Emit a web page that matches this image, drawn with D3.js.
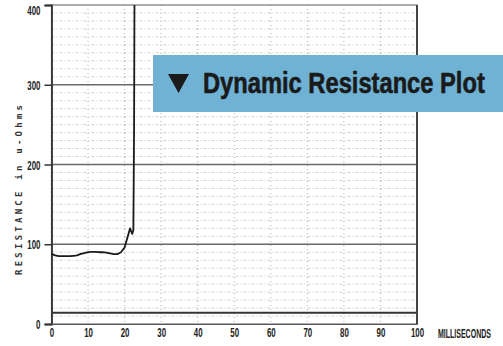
<!DOCTYPE html>
<html>
<head>
<meta charset="utf-8">
<script src="https://cdn.jsdelivr.net/npm/d3@7"></script>
<style>
  body { margin: 0; background: #fff; }
  svg { display: block; }
  .tick-label { font-family: "Liberation Sans", Arial, sans-serif; font-weight: bold; fill: #222; }
</style>
</head>
<body>
<div id="chart"></div>
<script>
// Dynamic resistance trace
const timeMs = [0, 1, 2, 3, 4, 5, 6, 7, 8, 9, 10, 11, 12, 13, 14, 15, 16, 17, 18, 19,
  20, 20.5, 21, 21.5, 21.8, 22.1, 22.4, 22.6, 22.7];
const resistance = [88, 86, 85, 85, 85, 85, 85.5, 86, 88, 89, 90, 90.5, 90.5, 90, 90, 89.5, 88.5, 87.5, 87.5, 90,
  96, 104, 112, 120, 116, 113, 118, 250, 400];

const xTicks = [0, 10, 20, 30, 40, 50, 60, 70, 80, 90, 100];
const yTicks = [0, 100, 200, 300, 400];
const minorY = d3.range(10, 400, 10);
const baseLine = 14; // heavy line just above the axis

const svgWidth = 503;
const svgHeight = 346;

const svg = d3.select("#chart")
  .append("svg")
  .attr("width", svgWidth)
  .attr("height", svgHeight);

const x = d3.scaleLinear().domain([0, 100]).range([51.5, 417]);
const y = d3.scaleLinear().domain([0, 400]).range([324, 5]);

// narrow digits, like the plotter font
const labelWidth = (d) => String(d).length * 4.4;

// squeeze a text horizontally to a given width (keeps the real glyph box)
function squeeze(sel, x0, y0, target) {
  const w = sel.node().getComputedTextLength();
  sel.attr("transform", `translate(${x0},${y0}) scale(${target / w},1)`);
}

// minor grid (dashed, light)
svg.append("g")
  .selectAll("line")
  .data(minorY.filter((d) => d % 100 !== 0))
  .join("line")
  .attr("x1", x(0)).attr("x2", x(100))
  .attr("y1", (d) => y(d)).attr("y2", (d) => y(d))
  .attr("stroke", "#c4c4c4")
  .attr("stroke-width", 0.8)
  .attr("stroke-dasharray", "3,2,1,2");

svg.append("g")
  .selectAll("line")
  .data(xTicks.slice(1, -1))
  .join("line")
  .attr("x1", (d) => x(d)).attr("x2", (d) => x(d))
  .attr("y1", y(400)).attr("y2", y(0))
  .attr("stroke", "#a8a8a8")
  .attr("stroke-width", 0.9)
  .attr("stroke-dasharray", "1,3");

// major grid
svg.append("g")
  .selectAll("line")
  .data(yTicks.slice(1, -1))
  .join("line")
  .attr("x1", x(0)).attr("x2", x(100))
  .attr("y1", (d) => y(d)).attr("y2", (d) => y(d))
  .attr("stroke", "#6a6a6a")
  .attr("stroke-width", 1.3);

svg.append("line")
  .attr("x1", x(0)).attr("x2", x(100))
  .attr("y1", y(baseLine)).attr("y2", y(baseLine))
  .attr("stroke", "#333")
  .attr("stroke-width", 2);

// frame
svg.append("rect")
  .attr("x", x(0)).attr("y", y(400))
  .attr("width", x(100) - x(0)).attr("height", y(0) - y(400))
  .attr("fill", "none")
  .attr("stroke", "#777")
  .attr("stroke-width", 1.2);
svg.append("line")
  .attr("x1", x(100)).attr("x2", x(100))
  .attr("y1", y(400)).attr("y2", y(0))
  .attr("stroke", "#444")
  .attr("stroke-width", 2);

// left axis
const yAxis = svg.append("g")
  .attr("transform", `translate(${x(0)},0)`)
  .call(d3.axisLeft(y).tickValues(yTicks).tickSize(7).tickPadding(4).tickFormat(d3.format("d")));
yAxis.select(".domain").attr("stroke", "#333").attr("stroke-width", 1.8);
yAxis.selectAll(".tick line").attr("stroke", "#333").attr("stroke-width", 1.5);
yAxis.selectAll(".tick text")
  .attr("class", "tick-label")
  .attr("font-size", 13)
  .attr("textLength", labelWidth)
  .attr("lengthAdjust", "spacingAndGlyphs")
  .attr("dy", (d) => (d === 400 ? "0.75em" : "0.35em"));

// bottom axis
const xAxis = svg.append("g")
  .attr("transform", `translate(0,${y(0)})`)
  .call(d3.axisBottom(x).tickValues(xTicks).tickSize(0).tickPadding(4).tickFormat(d3.format("d")));
xAxis.select(".domain").attr("stroke", "#555").attr("stroke-width", 1.2);
xAxis.selectAll(".tick text")
  .attr("class", "tick-label")
  .attr("font-size", 13)
  .attr("textLength", labelWidth)
  .attr("lengthAdjust", "spacingAndGlyphs");

const unit = svg.append("text")
  .attr("class", "tick-label")
  .attr("font-size", 12)
  .text("MILLISECONDS");
squeeze(unit, 438, 338, 53);

svg.append("text")
  .attr("transform", "translate(22,190) rotate(-90)")
  .attr("text-anchor", "middle")
  .attr("font-family", "DejaVu Sans Mono, monospace")
  .attr("font-weight", "bold")
  .attr("font-size", 9)
  .attr("fill", "#333")
  .attr("textLength", 170)
  .attr("lengthAdjust", "spacing")
  .text("RESISTANCE in u-Ohms");

// the trace
const trace = timeMs.map((t, i) => ({ t, r: resistance[i] }));
svg.append("path")
  .datum(trace)
  .attr("fill", "none")
  .attr("stroke", "#1a1a1a")
  .attr("stroke-width", 1.8)
  .attr("stroke-linejoin", "round")
  .attr("d", d3.line().x((d) => x(d.t)).y((d) => y(d.r)));

// title banner
svg.append("rect")
  .attr("x", 153).attr("y", 55)
  .attr("width", svgWidth - 153).attr("height", 57)
  .attr("fill", "#70b2d4");

svg.append("path")
  .attr("d", "M168,74 L189,74 L178.5,93 Z")
  .attr("fill", "#1a1a1a");

const title = svg.append("text")
  .attr("font-family", "Liberation Sans, Arial, sans-serif")
  .attr("font-weight", "bold")
  .attr("font-size", 29)
  .attr("fill", "#1a1a1a")
  .attr("stroke", "#1a1a1a")
  .attr("stroke-width", 0.6)
  .text("Dynamic Resistance Plot");
squeeze(title, 203, 93, 282);
</script>
</body>
</html>
